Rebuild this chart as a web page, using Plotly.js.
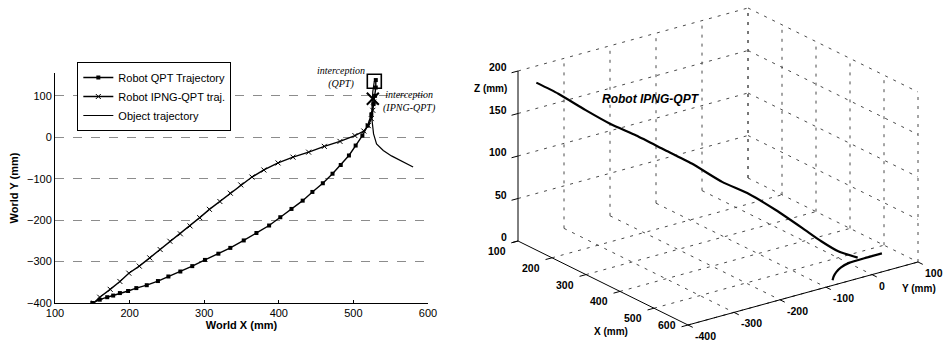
<!DOCTYPE html>
<html>
<head>
<meta charset="utf-8">
<script src="https://cdn.plot.ly/plotly-3.0.1.min.js"></script>
<style>html,body{margin:0;padding:0;background:#fff;}#chart{width:943px;height:342px;}</style>
</head>
<body>
<div id="chart"></div>
<script>
// ---- Left panel: World X / World Y trajectories ----
var qptX = [150,160,170,178,187,198,209,223,238,252,268,284,301,319,335,353,370,387,402,417,432,445,459,472,483,494,503,512,519,524,527,529,530,530];
var qptY = [-400,-392,-386,-382,-376,-371,-364,-357,-347,-336,-324,-311,-296,-281,-267,-249,-231,-213,-193,-173,-153,-132,-111,-88,-67,-44,-20,4,28,55,80,100,120,138];

var ipngX = [152,160,174,187,199,213,227,241,254,268,281,294,307,321,335,349,364,380,399,419,440,461,482,502,514,520,524,526,527];
var ipngY = [-400,-386,-367,-348,-328,-311,-291,-271,-251,-233,-214,-194,-174,-155,-135,-115,-96,-79,-62,-48,-36,-22,-10,4,15,28,45,65,85];

var objX = [580,567,551,540,531,527,525,525,526,528];
var objY = [-72,-60,-45,-32,-16,8,40,80,110,135];

var interceptQPTX = [528], interceptQPTY = [135];
var interceptIPNGX = [526], interceptIPNGY = [93];

var seriesNames = ['Robot QPT Trajectory', 'Robot IPNG-QPT traj.', 'Object trajectory'];
var xTicks = [100,200,300,400,500,600];
var yTicks = [-400,-300,-200,-100,0,100];

// ---- Right panel: 3D view (X, Y, Z in mm) ----
var robot3X = [154,174,199,226,253,280,308,335,364,398,440,471,498,520];
var robot3Y = [-400,-367,-327,-293,-256,-216,-176,-130,-93,-60,-33,-15,2,28];
var robot3Z = [197,183,163,147,133,116,99,76,62,45,28,16,7,0];

var obj3X = [580,567,553,540,531,529,529];
var obj3Y = [-71,-59,-43,-23,1,40,74];
var obj3Z = [0,0,0,0,0,0,0];

var x3Ticks = [100,200,300,400,500,600];
var y3Ticks = [-400,-300,-200,-100,0,100];
var z3Ticks = [0,50,100,150,200];

var FONT = 'Arial, "Liberation Sans", sans-serif';
var SERIF = '"Times New Roman", "Liberation Serif", serif';

// ---- oblique projection of the 3D box onto a pixel-unit 2D axis (x2/y2) ----
var x3Min = x3Ticks[0], x3Max = x3Ticks[x3Ticks.length-1];
var y3Min = y3Ticks[0], y3Max = y3Ticks[y3Ticks.length-1];
var z3Min = z3Ticks[0], z3Max = z3Ticks[z3Ticks.length-1];
var cam = {ox:518, oy:241, xs:[170, 84], ys:[230, -63], zs:[0, -170]};
function P(X, Y, Z){
  var u = (X - x3Min)/(x3Max - x3Min), v = (Y - y3Min)/(y3Max - y3Min), w = (Z - z3Min)/(z3Max - z3Min);
  return [cam.ox + u*cam.xs[0] + v*cam.ys[0] + w*cam.zs[0],
          cam.oy + u*cam.xs[1] + v*cam.ys[1] + w*cam.zs[1]];
}
function projLine(xs, ys, zs){
  var px = [], py = [];
  for (var i = 0; i < xs.length; i++){ var p = P(xs[i], ys[i], zs[i]); px.push(p[0]); py.push(p[1]); }
  return {x:px, y:py};
}
function segs(list){ // list of [[X,Y,Z],[X,Y,Z]]
  var px = [], py = [];
  list.forEach(function(s){
    var a = P(s[0][0], s[0][1], s[0][2]), b = P(s[1][0], s[1][1], s[1][2]);
    px.push(a[0], b[0], null); py.push(a[1], b[1], null);
  });
  return {x:px, y:py};
}
var gridSegs = [];
// wall X = min
y3Ticks.forEach(function(y){ if (y !== y3Min) gridSegs.push([[x3Min,y,z3Min],[x3Min,y,z3Max]]); });
z3Ticks.forEach(function(z){ if (z !== z3Min) gridSegs.push([[x3Min,y3Min,z],[x3Min,y3Max,z]]); });
// wall Y = max
x3Ticks.forEach(function(x){ gridSegs.push([[x,y3Max,z3Min],[x,y3Max,z3Max]]); });
z3Ticks.forEach(function(z){ gridSegs.push([[x3Min,y3Max,z],[x3Max,y3Max,z]]); });
// floor Z = min
x3Ticks.forEach(function(x){ if (x !== x3Min) gridSegs.push([[x,y3Min,z3Min],[x,y3Max,z3Min]]); });
y3Ticks.forEach(function(y){ if (y !== y3Min && y !== y3Max) gridSegs.push([[x3Min,y,z3Min],[x3Max,y,z3Min]]); });
var grid3 = segs(gridSegs);

var axisSegs = [
  [[x3Min,y3Min,z3Min],[x3Min,y3Min,z3Max]],
  [[x3Min,y3Min,z3Min],[x3Max,y3Min,z3Min]],
  [[x3Max,y3Min,z3Min],[x3Max,y3Max,z3Min]]
];
var tl = 14;
x3Ticks.forEach(function(x){ axisSegs.push([[x,y3Min,z3Min],[x,y3Min-tl,z3Min]]); });
y3Ticks.forEach(function(y){ axisSegs.push([[x3Max,y,z3Min],[x3Max+tl,y,z3Min]]); });
z3Ticks.forEach(function(z){ axisSegs.push([[x3Min,y3Min,z],[x3Min,y3Min-tl,z]]); });
var axes3 = segs(axisSegs);

var robotP = projLine(robot3X, robot3Y, robot3Z);
var objP = projLine(obj3X, obj3Y, obj3Z);

var traces = [
  {type:'scatter', mode:'lines+markers', name:seriesNames[0], x:qptX, y:qptY,
   line:{color:'#000', width:1.4}, marker:{symbol:'square', size:4, color:'#000'}},
  {type:'scatter', mode:'lines+markers', name:seriesNames[1], x:ipngX, y:ipngY,
   line:{color:'#000', width:1.4}, marker:{symbol:'x-thin', size:5, color:'#000', line:{width:1, color:'#000'}}},
  {type:'scatter', mode:'lines', name:seriesNames[2], x:objX, y:objY,
   line:{color:'#000', width:1.2}},
  {type:'scatter', mode:'markers', showlegend:false, x:interceptQPTX, y:interceptQPTY,
   marker:{symbol:'square-open', size:14, color:'#000', line:{width:1.6, color:'#000'}}},
  {type:'scatter', mode:'markers', showlegend:false, x:interceptIPNGX, y:interceptIPNGY,
   marker:{symbol:'x-thin', size:12, color:'#000', line:{width:2, color:'#000'}}},
  // 3D panel
  {type:'scatter', mode:'lines', showlegend:false, xaxis:'x2', yaxis:'y2', x:grid3.x, y:grid3.y,
   line:{color:'#4a4a4a', width:1, dash:'3px,6px'}, hoverinfo:'skip'},
  {type:'scatter', mode:'lines', showlegend:false, xaxis:'x2', yaxis:'y2', x:axes3.x, y:axes3.y,
   line:{color:'#000', width:1}, hoverinfo:'skip'},
  {type:'scatter', mode:'lines', showlegend:false, xaxis:'x2', yaxis:'y2', x:robotP.x, y:robotP.y,
   line:{color:'#000', width:2.2, shape:'spline', smoothing:0.6}},
  {type:'scatter', mode:'lines', showlegend:false, xaxis:'x2', yaxis:'y2', x:objP.x, y:objP.y,
   line:{color:'#000', width:2.2, shape:'spline', smoothing:0.6}}
];

var annotations = [
  {xref:'x', yref:'y', x:interceptQPTX[0], y:interceptQPTY[0], text:'<i>interception</i><br><i>(QPT)</i>',
   showarrow:false, xanchor:'right', yanchor:'middle', xshift:-7, yshift:4, align:'center',
   font:{family:SERIF, size:10, color:'#000'}},
  {xref:'x', yref:'y', x:interceptIPNGX[0], y:interceptIPNGY[0], text:'<i>interception</i><br><i>(IPNG-QPT)</i>',
   showarrow:false, xanchor:'left', yanchor:'middle', xshift:8, yshift:-3, align:'center',
   font:{family:SERIF, size:10, color:'#000'}},
  {xref:'paper', yref:'paper', x:651/943, y:1-99/342, text:'<b><i>Robot IPNG-QPT</i></b>',
   showarrow:false, xanchor:'center', yanchor:'middle', font:{family:FONT, size:12, color:'#000'}},
  {xref:'paper', yref:'paper', x:490/943, y:1-88/342, text:'<b>Z (mm)</b>',
   showarrow:false, xanchor:'center', yanchor:'middle', font:{family:FONT, size:10, color:'#000'}},
  {xref:'paper', yref:'paper', x:611/943, y:1-331/342, text:'<b>X (mm)</b>',
   showarrow:false, xanchor:'center', yanchor:'middle', font:{family:FONT, size:10, color:'#000'}},
  {xref:'paper', yref:'paper', x:919/943, y:1-288/342, text:'<b>Y (mm)</b>',
   showarrow:false, xanchor:'center', yanchor:'middle', font:{family:FONT, size:10, color:'#000'}}
];
var tickFont3 = {family:FONT, size:10.5, color:'#000'};
z3Ticks.forEach(function(z){
  var p = P(x3Min, y3Min, z);
  annotations.push({xref:'x2', yref:'y2', x:p[0], y:p[1], text:'<b>'+z+'</b>', showarrow:false,
    xanchor:'right', yanchor:'middle', xshift:-9, yshift:4, font:tickFont3});
});
x3Ticks.forEach(function(x, i){
  var p = P(x, y3Min, z3Min);
  var last = (i === x3Ticks.length-1);
  annotations.push({xref:'x2', yref:'y2', x:p[0], y:p[1], text:'<b>'+x+'</b>', showarrow:false,
    xanchor:'right', yanchor:'middle', xshift:-10, yshift: last ? 0 : -10, font:tickFont3});
});
y3Ticks.forEach(function(y){
  var p = P(x3Max, y, z3Min);
  annotations.push({xref:'x2', yref:'y2', x:p[0], y:p[1], text:'<b>'+y+'</b>', showarrow:false,
    xanchor:'left', yanchor:'middle', xshift:5, yshift:-11, font:tickFont3});
});

var layout = {
  width:943, height:342,
  margin:{l:0, r:0, t:0, b:0},
  paper_bgcolor:'#fff', plot_bgcolor:'rgba(0,0,0,0)',
  font:{family:FONT, color:'#000', size:11},
  showlegend:true,
  legend:{x:0.082, y:1-62/342, xanchor:'left', yanchor:'top', bordercolor:'#000', borderwidth:1,
    bgcolor:'#fff', font:{family:FONT, size:11, color:'#000'}, tracegroupgap:0},
  xaxis:{domain:[0.0583, 0.4539], range:[100,600], tickvals:xTicks, showgrid:false, zeroline:false,
    showline:true, linecolor:'#000', linewidth:1, ticks:'inside', ticklen:3, tickcolor:'#000',
    tickfont:{family:FONT, size:11}, title:{text:'<b>World X (mm)</b>', font:{family:FONT, size:11}, standoff:2}},
  yaxis:{domain:[0.114, 0.7865], range:[-400,155], tickvals:yTicks, showgrid:true, gridcolor:'#8c8c8c',
    griddash:'dash', gridwidth:1, zeroline:false, showline:true, linecolor:'#000', linewidth:1,
    ticks:'', tickfont:{family:FONT, size:11},
    title:{text:'<b>World Y (mm)</b>', font:{family:FONT, size:11}, standoff:6}},
  xaxis2:{domain:[0,1], range:[0,943], visible:false, fixedrange:true, anchor:'y2'},
  yaxis2:{domain:[0,1], range:[342,0], visible:false, fixedrange:true, anchor:'x2'},
  annotations:annotations
};

Plotly.newPlot('chart', traces, layout, {displayModeBar:false, staticPlot:true});
</script>
</body>
</html>
